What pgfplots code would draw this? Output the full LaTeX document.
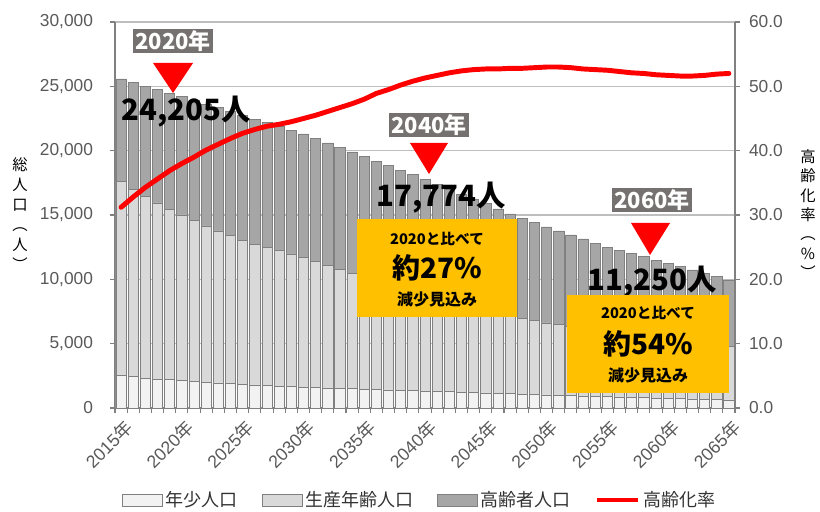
\documentclass[border=0pt]{standalone}
\usepackage{fontspec}
\setmainfont{Liberation Sans}
\newfontfamily\jp{Noto Sans CJK JP}
\usepackage{graphicx}
\usepackage{pgfplots}
\pgfplotsset{compat=1.18}
\usepackage{pgfplotstable}
\definecolor{tickgray}{RGB}{89,89,89}
\definecolor{child}{RGB}{242,242,242}
\definecolor{work}{RGB}{217,217,217}
\definecolor{old}{RGB}{166,166,166}
\definecolor{barline}{RGB}{128,128,128}
\definecolor{gridc}{RGB}{190,190,190}
\definecolor{boxgray}{RGB}{118,113,113}
\definecolor{yel}{RGB}{255,192,0}
\newcommand{\nen}{{\jp 年}}
\pgfplotsset{
  barleg/.style={legend image code/.code={\draw[##1] (0pt,-4.5pt) rectangle (30pt,4.5pt);}},
  lineleg/.style={legend image code/.code={\draw[##1] (0pt,0pt) -- (31pt,0pt);}},
}

\pgfplotstableread{
year child work old rate
2015 2510 15082 7978 31.2
2016 2440 14555 8295 32.8
2017 2330 14102 8578 34.3
2018 2250 13683 8807 35.6
2019 2220 13221 9029 36.9
2020 2120 12887 9198 38.0
2021 2080 12505 9325 39.0
2022 2000 12148 9472 40.1
2023 1950 11815 9565 41.0
2024 1910 11476 9654 41.9
2025 1850 11186 9714 42.7
2026 1790 10945 9725 43.3
2027 1730 10730 9710 43.8
2028 1710 10521 9649 44.1
2029 1670 10312 9608 44.5
2030 1620 10095 9585 45.0
2031 1590 9828 9532 45.5
2032 1560 9543 9497 46.1
2033 1530 9263 9457 46.7
2034 1500 8987 9413 47.3
2035 1470 8691 9379 48.0
2036 1440 8366 9384 48.9
2037 1410 8104 9326 49.5
2038 1380 7828 9282 50.2
2039 1350 7570 9210 50.8
2040 1320 7336 9118 51.3
2041 1290 7109 8991 51.7
2042 1260 6888 8862 52.1
2043 1230 6686 8714 52.4
2044 1200 6502 8548 52.6
2045 1170 6337 8363 52.7
2046 1140 6177 8153 52.7
2047 1110 6008 7962 52.8
2048 1080 5877 7783 52.8
2049 1050 5732 7618 52.9
2050 1020 5593 7457 53.0
2051 995 5472 7293 53.0
2052 970 5365 7115 52.9
2053 945 5270 6925 52.7
2054 920 5157 6743 52.6
2055 895 5047 6568 52.5
2056 865 4983 6412 52.3
2057 835 4918 6257 52.1
2058 805 4835 6110 52.0
2059 775 4768 5957 51.8
2060 750 4684 5816 51.7
2061 725 4594 5671 51.6
2062 700 4493 5537 51.6
2063 675 4382 5413 51.7
2064 650 4261 5299 51.9
2065 625 4151 5174 52.0
}\data

\begin{document}
\begin{tikzpicture}
\useasboundingbox (0,0) rectangle (615pt,383.25pt);
\begin{axis}[
  at={(86.25pt,77.25pt)}, anchor=south west,
  scale only axis, width=465pt, height=289.5pt,
  xmin=2014.5, xmax=2065.5, ymin=0, ymax=30000,
  ybar stacked, bar width=0.84,
  axis x line*=bottom, axis y line*=left,
  axis line style={draw=barline, line width=0.8pt},
  xtick={2015,2020,...,2065},
  xticklabels={2015\nen,2020\nen,2025\nen,2030\nen,2035\nen,2040\nen,2045\nen,2050\nen,2055\nen,2060\nen,2065\nen},
  minor xtick={2014.5,2015.5,...,2065.5},
  major x tick style=transparent,
  tick style={draw=barline, line width=0.8pt},
  tick align=outside, major tick length=4pt, minor tick length=4pt,
  ytick={0,5000,...,30000},
  ymajorgrids, grid style={draw=gridc, line width=0.8pt},
  scaled y ticks=false,
  /pgf/number format/.cd, 1000 sep={,}, assume math mode=true, /pgfplots/.cd,
  yticklabel style={font=\fontsize{13}{15}\selectfont, text=tickgray, xshift=-9pt},
  xticklabel style={font=\fontsize{13.3}{15}\selectfont, text=tickgray, rotate=45, anchor=east, yshift=-10pt, xshift=2pt},
  legend style={at={(0.492,-0.238)}, anchor=center, draw=none, fill=none,
    font=\jp\fontsize{13.5}{15}\selectfont, text={black!80},
    legend columns=4, /tikz/every even column/.append style={column sep=16pt}},
]
\addplot[fill=child, draw=barline, line width=0.5pt, barleg]
  table[x=year,y=child]{\data};
\addlegendentry{年少人口}
\addplot[fill=work, draw=barline, line width=0.5pt, barleg]
  table[x=year,y=work]{\data};
\addlegendentry{生産年齢人口}
\addplot[fill=old, draw=barline, line width=0.5pt, barleg]
  table[x=year,y=old]{\data};
\addlegendentry{高齢者人口}
\addlegendimage{red, line width=3.5pt, lineleg}
\addlegendentry{高齢化率}
\end{axis}
\begin{axis}[
  at={(86.25pt,77.25pt)}, anchor=south west,
  scale only axis, width=465pt, height=289.5pt,
  xmin=2014.5, xmax=2065.5, ymin=0, ymax=60,
  axis x line=none, axis y line*=right,
  axis line style={draw=barline, line width=1.1pt},
  ytick={0,10,...,60},
  tick style={draw=barline, line width=0.8pt},
  tick align=outside, major tick length=4pt,
  /pgf/number format/.cd, fixed, fixed zerofill, precision=1, assume math mode=true, /pgfplots/.cd,
  yticklabel style={font=\fontsize{13}{15}\selectfont, text=tickgray, xshift=3pt},
]
\addplot[red, line width=3.7pt, line join=round, line cap=round, mark=none]
  table[x=year,y=rate]{\data};
\end{axis}

\begin{scope}[x=0.75pt,y=-0.75pt,shift={(0pt,383.25pt)}]
  \node[align=center, font=\jp\fontsize{11.5}{15}\selectfont, text=black] at (20,214) {総\\人\\口\\︵\\人\\︶};
  \node[align=center, font=\jp\fontsize{11.5}{14.5}\selectfont, text=black] at (808,214) {高\\齢\\化\\率\\︵\\\%\\︶};
  \node[fill=boxgray, text=white, font=\jp\bfseries\fontsize{16.5}{18}\selectfont, inner xsep=2pt, inner ysep=1.5pt] at (173,41) {2020年};
  \fill[red] (153,63) -- (193,63) -- (173,93) -- cycle;
  \node[font=\jp\bfseries\fontsize{22}{24}\selectfont, text=black] at (186,112) {24,205人};
  \node[fill=boxgray, text=white, font=\jp\bfseries\fontsize{16.5}{18}\selectfont, inner xsep=2pt, inner ysep=1.5pt] at (429,125) {2040年};
  \fill[red] (410,143) -- (448,143) -- (429,174) -- cycle;
  \node[font=\jp\bfseries\fontsize{22}{24}\selectfont, text=black] at (441,198) {17,774人};
  \fill[yel] (357,219) rectangle (517,317);
  \node[font=\jp\bfseries\fontsize{11}{13}\selectfont] at (437,239) {2020と比べて};
  \node[font=\jp\bfseries\fontsize{21}{23}\selectfont] at (437,268) {約27\%};
  \node[font=\jp\bfseries\fontsize{12}{14}\selectfont] at (437,299) {減少見込み};
  \node[fill=boxgray, text=white, font=\jp\bfseries\fontsize{16.5}{18}\selectfont, inner xsep=2pt, inner ysep=1.5pt] at (652,200) {2060年};
  \fill[red] (631,223) -- (670,223) -- (650,255) -- cycle;
  \node[font=\jp\bfseries\fontsize{22}{24}\selectfont, text=black] at (652,282) {11,250人};
  \fill[yel] (567,295) rectangle (729,393);
  \node[font=\jp\bfseries\fontsize{11}{13}\selectfont] at (648,313) {2020と比べて};
  \node[font=\jp\bfseries\fontsize{21}{23}\selectfont] at (648,344) {約54\%};
  \node[font=\jp\bfseries\fontsize{12}{14}\selectfont] at (648,375) {減少見込み};
\end{scope}
\end{tikzpicture}
\end{document}
